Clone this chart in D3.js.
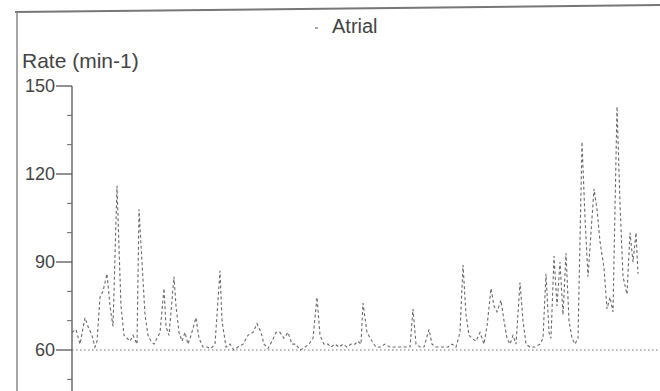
<!DOCTYPE html>
<html>
<head>
<meta charset="utf-8">
<script src="https://cdn.jsdelivr.net/npm/d3@7"></script>
<style>
  body { margin: 0; background: #fff; }
  svg { display: block; }
  text { font-family: "Liberation Sans", Arial, sans-serif; fill: #444; }
</style>
</head>
<body>
<script>
// Time (samples) and atrial rate (min-1)
const times = [0, 2, 4, 6.5, 8, 10, 11.5, 12.5, 14, 15.5, 17.5, 19, 20.5, 22.5, 23.5, 24.5, 26, 27.5, 29, 30.5,
  32.5, 33.5, 35, 36.5, 38, 39.5, 41, 42.5, 44, 46, 47, 48.5, 51, 52, 53.5, 55, 56.5, 58, 59.5, 62,
  63.5, 65.5, 67.5, 69.5, 71.5, 74, 75, 77, 79, 81, 83, 85.5, 88, 90.5, 92.5, 94.5, 96, 98, 100, 102,
  104, 106, 108, 110, 112, 114, 116.5, 118.5, 120.5, 122.5, 124, 126, 128, 129.5, 131.5, 133.5, 135.5, 137.5, 139.5, 141.5,
  143, 144.5, 145.5, 147.5, 150, 152, 154, 156.5, 159, 161.5, 164, 166.5, 169, 170.5, 172, 174, 176, 178.5, 180, 182,
  184, 186, 188, 190, 192, 194, 195.5, 197, 198.5, 200, 202, 204, 206, 207.5, 209.5, 211, 212.5, 214.5, 216, 217.5,
  219, 220.5, 222, 224, 225.5, 227, 229, 231.5, 234, 235.5, 237, 238.5, 239.5, 241, 242.5, 244, 245.5, 247, 248.5, 250,
  251.5, 253, 255, 256.5, 258, 259.5, 261, 262.5, 264, 266, 267.5, 269, 270.5, 272.5, 274, 275.5, 277.5, 279, 280.5, 282, 283];
const rates = [66, 67, 62, 71, 68, 65, 61, 63, 78, 80, 86, 75, 68, 116, 95, 75, 65, 64, 63, 65,
  62, 108, 90, 72, 65, 63, 62, 64, 66, 81, 68, 65, 85, 75, 66, 63, 66, 62, 65, 71,
  64, 61, 61, 60.5, 62, 87, 70, 61, 62, 60, 61, 62, 65, 66, 69, 66, 62, 60.5, 63, 66,
  66, 64, 66, 62, 62, 60, 61, 62, 64, 78, 65, 62, 62, 61, 62, 61, 62, 61, 62, 62,
  63, 62, 76, 66, 63, 61, 61, 62, 61, 61, 61, 61, 61, 74, 62, 61, 61, 67, 62, 61,
  61, 61, 61, 62, 61, 66, 89, 72, 65, 64, 63, 66, 62, 68, 81, 75, 73, 77, 70, 64,
  62, 65, 62, 83, 70, 62, 61, 61, 62, 64, 86, 66, 64, 92, 75, 90, 72, 93, 70, 64,
  62, 64, 131, 105, 85, 100, 115, 108, 97, 88, 74, 78, 73, 143, 110, 85, 79, 100, 90, 100, 86];
const yTicks = [60, 90, 120, 150];
const lowerRate = 60;
const title = "Rate (min-1)";
const seriesName = "Atrial";

const W = 660, H = 391;
const svg = d3.select("body").append("svg").attr("width", W).attr("height", H);

// scanned page frame
svg.append("line").attr("x1", 15).attr("y1", 12).attr("x2", W).attr("y2", 5)
  .attr("stroke", "#777").attr("stroke-width", 2);
svg.append("line").attr("x1", 17).attr("y1", 12).attr("x2", 17).attr("y2", H)
  .attr("stroke", "#888").attr("stroke-width", 1.5);

const x = d3.scaleLinear().domain([0, 294]).range([72, 660]);
const y = d3.scaleLinear().domain([60, 150]).range([350, 86]);

// y axis: major ticks labelled, minor ticks every 10
const axis = svg.append("g").attr("transform", "translate(72,0)");
axis.append("line").attr("x1", 0).attr("x2", 0).attr("y1", y(150)).attr("y2", H)
  .attr("stroke", "#555").attr("stroke-width", 1.3);
axis.selectAll(".minor").data(d3.range(40, 151, 10).filter(d => !yTicks.includes(d)))
  .enter().append("line")
    .attr("x1", -5).attr("x2", 0)
    .attr("y1", d => y(d)).attr("y2", d => y(d))
    .attr("stroke", "#666").attr("stroke-width", 1);
axis.selectAll(".major").data(yTicks).enter().append("line")
    .attr("x1", -16).attr("x2", 0)
    .attr("y1", d => y(d)).attr("y2", d => y(d))
    .attr("stroke", "#555").attr("stroke-width", 1.3);
axis.selectAll(".lbl").data(yTicks).enter().append("text")
    .attr("x", -17).attr("y", d => y(d)).attr("dy", "0.35em")
    .attr("text-anchor", "end").attr("font-size", 18)
    .text(d => d);

svg.append("text").attr("x", 22).attr("y", 68).attr("font-size", 21).text(title);

// lower rate reference line
svg.append("line").attr("x1", x(0)).attr("x2", W).attr("y1", y(lowerRate)).attr("y2", y(lowerRate))
  .attr("stroke", "#777").attr("stroke-width", 1).attr("stroke-dasharray", "1.5,2.5");

// legend
svg.append("line").attr("x1", 315).attr("x2", 318).attr("y1", 28).attr("y2", 28)
  .attr("stroke", "#888").attr("stroke-width", 1.5);
svg.append("text").attr("x", 332).attr("y", 33).attr("font-size", 20).text(seriesName);

// atrial rate trace
const line = d3.line().x((d, i) => x(times[i])).y(d => y(d));
svg.append("path").datum(rates)
  .attr("d", line)
  .attr("fill", "none")
  .attr("stroke", "#6a6a6a")
  .attr("stroke-width", 1.1)
  .attr("stroke-dasharray", "3,2.5");
</script>
</body>
</html>
